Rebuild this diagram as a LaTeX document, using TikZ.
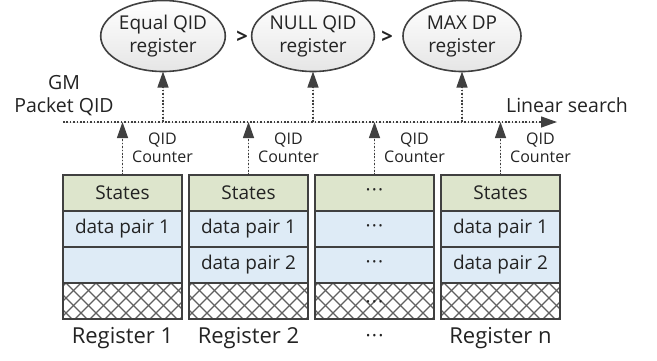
\documentclass[tikz,border=0pt]{standalone}
\usepackage{fontspec}
\setmainfont{Open Sans}
\usetikzlibrary{arrows.meta,shapes.geometric}
\definecolor{edge}{RGB}{64,64,64}
\definecolor{txt}{RGB}{35,35,35}
\definecolor{stfill}{RGB}{221,229,204}
\definecolor{dpfill}{RGB}{222,235,246}
\newcommand{\mdots}{\textperiodcentered\kern1.2pt\textperiodcentered\kern1.2pt\textperiodcentered}
\begin{document}
\begin{tikzpicture}[x=1pt,y=-1pt,
  every node/.style={text=txt},
  cell/.style={draw=edge, line width=2pt, minimum width=119pt, minimum height=36pt, inner sep=0pt, outer sep=0pt, font=\fontsize{19}{22}\selectfont},
  stcell/.style={cell, fill=stfill},
  dpcell/.style={cell, fill=dpfill},
  hcell/.style={cell, fill=white, draw=none},
  regell/.style={ellipse, draw=edge, line width=1.6pt, minimum width=118pt, minimum height=71pt, inner sep=0pt, outer sep=0pt, top color=white, bottom color=gray!20, align=center, font=\fontsize{19}{23}\selectfont},
  dotl/.style={draw=edge, line width=1.3pt, dash pattern=on 1.6pt off 1.8pt},
  tipa/.style={-{Triangle[length=16pt,width=11pt]}},
  hatch/.style={draw=gray!75!black, line width=1.1pt},
  lbl/.style={font=\fontsize{19.5}{23}\selectfont, align=center},
  reglbl/.style={font=\fontsize{22}{25}\selectfont},
  small/.style={font=\fontsize{16}{18}\selectfont, align=center},
  gt/.style={font=\bfseries\fontsize{20}{22}\selectfont}
]
\useasboundingbox (0,0) rectangle (657,360);

% top registers
\node[regell] (e1) at (163,36) {Equal QID\\register};
\node[regell] (e2) at (313,36) {NULL QID\\register};
\node[regell] (e3) at (462,36) {MAX DP\\register};
\node[gt] (g1) at (242,37) {>};
\node[gt] (g2) at (387,37) {>};

% register columns
\foreach \i/\x in {1/122.5, 2/248.5, 3/374.5, 4/500.5}{
  \node[stcell] (s\i) at (\x,193) {};
  \node[dpcell] (a\i) at (\x,229) {};
  \node[dpcell] (b\i) at (\x,265) {};
  \node[hcell] (h\i) at (\x,301) {};
}
\node[cell, draw=none] at (s1) {States};
\node[cell, draw=none] at (s2) {States};
\node[cell, draw=none] at (s3) {\mdots};
\node[cell, draw=none] at (s4) {States};
\node[cell, draw=none] at (a1) {data pair 1};
\node[cell, draw=none] at (a2) {data pair 1};
\node[cell, draw=none] at (a3) {\mdots};
\node[cell, draw=none] at (a4) {data pair 1};
\node[cell, draw=none] at (b2) {data pair 2};
\node[cell, draw=none] at (b3) {\mdots};
\node[cell, draw=none] at (b4) {data pair 2};

% hatching
\foreach \n in {h1,h2,h3,h4}{
  \begin{scope}
    \clip (\n.north west) rectangle (\n.south east);
    \foreach \k in {-3,...,11}{
      \draw[hatch] ([xshift=\k*15pt+3pt]\n.north west) -- ++(40,40);
      \draw[hatch] ([xshift=\k*15pt+3pt]\n.north west) -- ++(-40,40);
    }
  \end{scope}
  \draw[draw=edge, line width=2pt] (\n.north west) rectangle (\n.south east);
}
\node[cell, draw=none, yshift=-4pt] at (h3) {\mdots};

% register labels
\node[reglbl] (r1) at (122.5,338) {Register 1};
\node[reglbl] (r2) at (248.5,338) {Register 2};
\node[lbl] (r3) at (374.5,338) {\mdots};
\node[reglbl] (r4) at (500.5,338) {Register n};

% search line
\coordinate (ls) at (63,122);
\coordinate (le) at (557,122);
\draw[dotl, tipa, fill=edge] (ls) -- (le);
\node[lbl] (gm) at (64,96) {GM\\Packet QID};
\node[lbl] (lin) at (567,105) {Linear search};

% up arrows from registers
\foreach \i in {1,2,3,4}{
  \draw[dotl, tipa, fill=edge] (s\i.north) -- (s\i.north |- ls);
  \node[small] (q\i) at ([xshift=40pt]s\i.north |- 0,148) {QID\\Counter};
}
% up arrows to ellipses
\foreach \i in {1,2,3}{
  \draw[dotl, tipa, fill=edge] (e\i.south |- ls) -- (e\i.south);
}
\end{tikzpicture}
\end{document}
